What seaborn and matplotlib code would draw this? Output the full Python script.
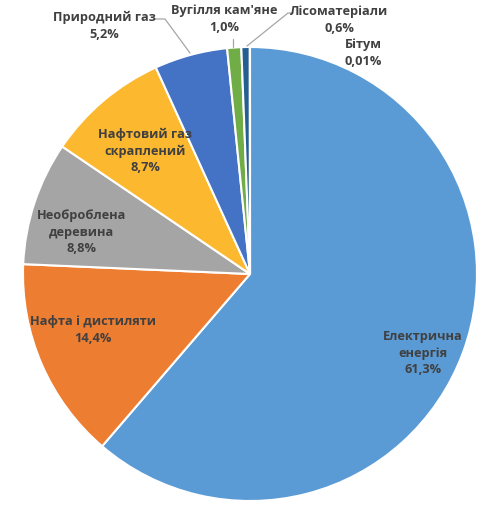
import numpy as np
import matplotlib
matplotlib.use("Agg")
import matplotlib.pyplot as plt
import seaborn as sns

# data
categories = ["Електрична\nенергія", "Нафта і дистиляти", "Необроблена\nдеревина",
              "Нафтовий газ\nскраплений", "Природний газ", "Вугілля кам'яне",
              "Лісоматеріали", "Бітум"]
shares = [61.3, 14.4, 8.8, 8.7, 5.2, 1.0, 0.6, 0.01]
pct_labels = ["61,3%", "14,4%", "8,8%", "8,7%", "5,2%", "1,0%", "0,6%", "0,01%"]

colors = ["#5B9BD5", "#ED7D31", "#A5A5A5", "#FCB82E",
          "#4472C4", "#70AD47", "#255E91", "#9E480E"]

sns.set_style("white")
plt.rcParams['font.family'] = ['Open Sans', 'DejaVu Sans']

W, H = 500, 509
CX, CY, R = 250, 274, 227


def px(x, y):
    # pixel position in the picture -> data coords (pie radius = 1)
    return (x - CX) / R, (CY - y) / R


fig = plt.figure(figsize=(W / 100, H / 100), dpi=100)
ax = fig.add_axes([0, 0, 1, 1])
ax.pie(shares, colors=colors, startangle=90, counterclock=False,
       wedgeprops=dict(edgecolor="white", linewidth=1.5))
ax.set_xlim(-CX / R, (W - CX) / R)
ax.set_ylim((CY - H) / R, CY / R)
ax.set_aspect("auto")
ax.axis("off")

# label centres in picture pixels
label_pos = [(423, 353), (93, 330), (82, 232), (145, 151),
             (104, 26), (224, 19), (339, 20), (363, 53)]
for name, pct, (lx, ly) in zip(categories, pct_labels, label_pos):
    x, y = px(lx, ly)
    ax.text(x, y, f"{name}\n{pct}", ha="center", va="center",
            fontsize=9.2, fontweight="bold", color="#404040", linespacing=1.35)

# leader lines
leaders = [
    [(155, 19), (165, 19), (190, 53)],
    [(233, 39), (233, 47)],
    [(293, 13), (288, 13), (247, 46)],
]
for pts in leaders:
    xs, ys = zip(*[px(a, b) for a, b in pts])
    ax.plot(xs, ys, color="#A6A6A6", lw=0.9)

fig.savefig("out.png", dpi=100)
